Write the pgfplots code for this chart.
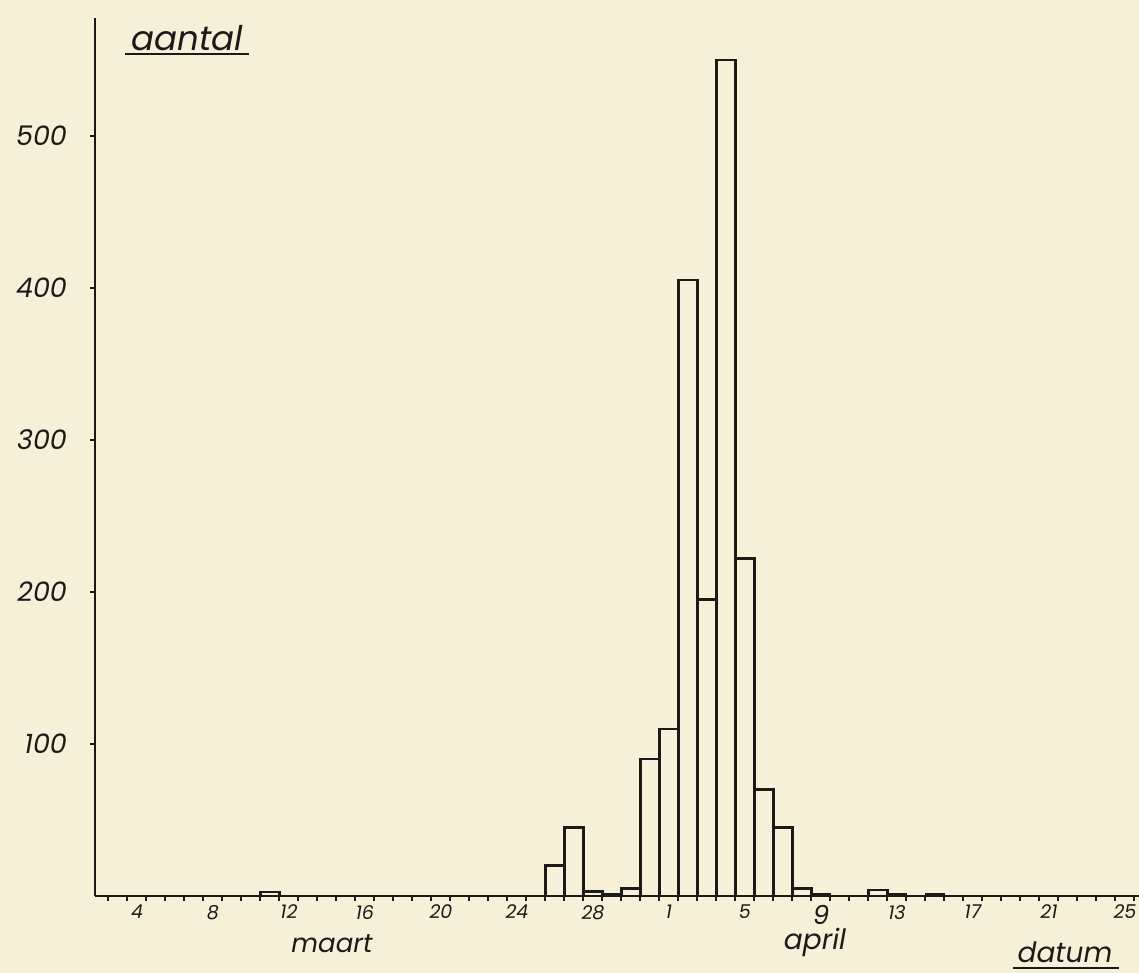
\documentclass[border=0pt]{standalone}
\usepackage{pgfplots}
\pgfplotsset{compat=1.18}
\usepackage{fontspec}
\setmainfont{Poppins}
\definecolor{paper}{RGB}{247,240,217}
\definecolor{ink}{RGB}{28,26,24}
\begin{document}
\begin{tikzpicture}
\path[use as bounding box, fill=paper] (-47.5pt,-38.5pt) rectangle (522pt,448pt);
\begin{axis}[
  at={(0pt,0pt)}, anchor=south west,
  scale only axis, width=522pt, height=439pt,
  xmin=1.79, xmax=56.74, ymin=0, ymax=577.6,
  axis x line=bottom, axis y line=left,
  axis line style={-, line width=1.4pt, ink},
  tick align=outside,
  major tick length=2.5pt,
  tick style={ink, line width=1pt},
  xtick={2.5,3.5,...,56.5}, xticklabels={},
  extra x ticks={4,8,12,16,20,24,28,32,36,40,44,48,52,56},
  extra x tick labels={4,8,12,16,20,24,28,1,5,{\fontsize{13}{13}\selectfont 9},13,17,21,25},
  extra x tick style={major tick length=0pt, tick label style={font=\itshape\fontsize{9.5}{10}\selectfont, ink, yshift=-1pt}},
  ytick={100,200,300,400,500},
  /pgf/number format/assume math mode=true,
  yticklabel style={font=\itshape\fontsize{13.5}{14}\selectfont, ink, anchor=east, xshift=-8pt},
  clip=false,
]
% open bars
\addplot[ybar, bar width=1, bar shift=0pt, draw=ink, fill=paper, line width=1.1pt]
 coordinates {
 (11,2.5)
 (26,20) (27,45) (28,3) (30,5) (31,90)
 (32,110) (33,405) (34,195) (35,550) (36,222) (37,70) (38,45) (39,5)
 (43,4)
 };
% very small bars (drawn as dark strips)
\addplot[ybar, bar width=1, bar shift=0pt, draw=ink, fill=ink, line width=0.8pt]
 coordinates {
 (29,1.5) (40,1.5) (44,1.5) (46,1.5)
 };
\end{axis}
\node[font=\itshape\fontsize{17}{17}\selectfont, ink] at (46pt,429pt) {aantal};
\draw[ink, line width=1.4pt] (15pt,421pt) -- (77pt,421pt);
\node[font=\itshape\fontsize{13}{13}\selectfont, ink] at (118.5pt,-24pt) {maart};
\node[font=\itshape\fontsize{14}{14}\selectfont, ink] at (360pt,-23pt) {april};
\node[font=\itshape\fontsize{14}{14}\selectfont, ink] at (485pt,-28pt) {datum};
\draw[ink, line width=1.2pt] (459pt,-36pt) -- (512pt,-36pt);
\end{tikzpicture}
\end{document}
